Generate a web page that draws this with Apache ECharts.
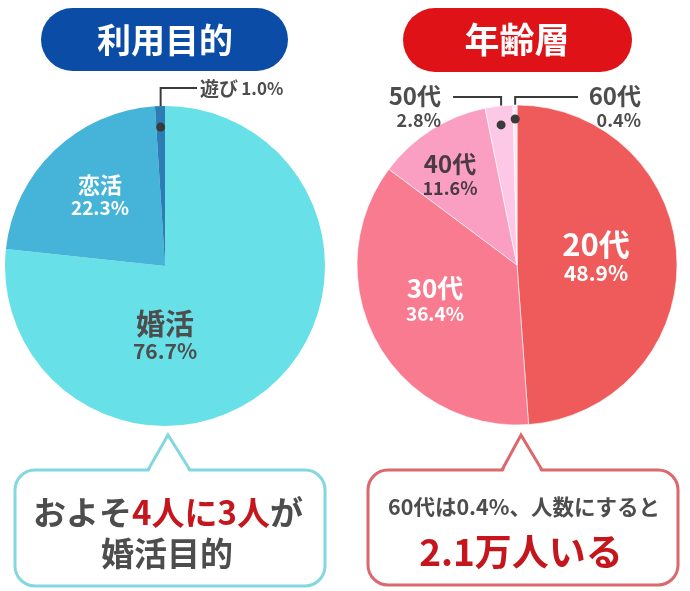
<!DOCTYPE html>
<html>
<head>
<meta charset="utf-8">
<script src="https://cdn.jsdelivr.net/npm/echarts@6/dist/echarts.min.js"></script>
<style>
  html, body { margin: 0; padding: 0; background: #fff; }
  #main { width: 690px; height: 591px; }
</style>
</head>
<body>
<div id="main"></div>
<script>
const purposeNames = ['婚活', '恋活', '遊び'];
const purposeValues = [76.7, 22.3, 1.0];
const ageNames = ['20代', '30代', '40代', '50代', '60代'];
const ageValues = [48.9, 36.4, 11.6, 2.8, 0.4];

const FONT = '"Noto Sans CJK JP", "Noto Sans", sans-serif';
const GRAY = '#4d4d4d';
const RED = '#c4161c';
const LEAD = '#3a3a3a';

const purposeColors = ['#68e0e8', '#45b4d8', '#2c7db6'];
const ageColors = ['#ef5a5b', '#f97b90', '#fa9fc2', '#fcc8e5', '#fde9f4'];

// pie geometry
const leftPie = { cx: 165, cy: 266, r: 160 };
const rightPie = { cx: 517, cy: 265, r: 160 };

// where the inside labels sit, and how outside labels are led out
const labelSpots = {
    '婚活': { x: 165, y: 336, align: 'center' },
    '恋活': { x: 100, y: 196, align: 'center' },
    '遊び': { x: 200, y: 89, align: 'left', lead: { r: 139, turnY: 88, endX: 197 } },
    '20代': { x: 596, y: 257, align: 'center' },
    '30代': { x: 435, y: 300, align: 'center' },
    '40代': { x: 450, y: 175, align: 'center' },
    '50代': { x: 441, y: 107, align: 'right', lead: { r: 141, turnY: 97, endX: 453 } },
    '60代': { x: 641, y: 107, align: 'right', lead: { r: 146, turnY: 97, endX: 578 } }
};

const labelLooks = {
    '婚活': { color: GRAY, n: 29, p: 21 },
    '恋活': { color: '#fff', n: 22, p: 19 },
    '遊び': { color: GRAY, n: 19, p: 17 },
    '20代': { color: '#fff', n: 31, p: 21 },
    '30代': { color: '#fff', n: 26, p: 19 },
    '40代': { color: '#4a3a44', n: 24, p: 18 },
    '50代': { color: GRAY, n: 24, p: 18 },
    '60代': { color: GRAY, n: 24, p: 18 }
};

// angle (clockwise from 12 o'clock) of the middle of slice i
function midAngle(values, i) {
    const total = values.reduce((a, b) => a + b, 0);
    let before = 0;
    for (let k = 0; k < i; k++) before += values[k];
    return (before + values[i] / 2) / total * Math.PI * 2;
}

function leadPoint(pie, values, i, r) {
    const a = midAngle(values, i);
    return [pie.cx + r * Math.sin(a), pie.cy - r * Math.cos(a)];
}

function buildData(names, values, colors) {
    return names.map((name, i) => {
        const look = labelLooks[name];
        const spot = labelSpots[name];
        const inline = name === '遊び';
        return {
            name: name,
            value: values[i],
            itemStyle: { color: colors[i] },
            label: {
                position: spot.lead ? 'outside' : 'inside',
                formatter: inline
                    ? '{n|' + name + '} {p|' + values[i].toFixed(1) + '%}'
                    : '{n|' + name + '}\n{p|' + values[i].toFixed(1) + '%}',
                rich: {
                    n: { fontSize: look.n, fontWeight: 'bold', color: look.color, fontFamily: FONT,
                         lineHeight: look.n + 2, align: spot.align },
                    p: { fontSize: look.p, fontWeight: 'bold', color: look.color, fontFamily: FONT,
                         lineHeight: look.p + 4, align: spot.align }
                }
            },
            labelLine: { show: !!spot.lead, lineStyle: { color: LEAD, width: 2, opacity: 1 } }
        };
    });
}

function layoutFor(pie, names, values) {
    return function (params) {
        const name = names[params.dataIndex];
        const spot = labelSpots[name];
        const out = { x: spot.x, y: spot.y, align: spot.align, verticalAlign: 'middle' };
        if (spot.lead) {
            const p = leadPoint(pie, values, params.dataIndex, spot.lead.r);
            out.labelLinePoints = [p, [p[0], spot.lead.turnY], [spot.lead.endX, spot.lead.turnY]];
        }
        return out;
    };
}

function dots(pie, names, values) {
    const list = [];
    names.forEach((name, i) => {
        const spot = labelSpots[name];
        if (!spot.lead) return;
        const p = leadPoint(pie, values, i, spot.lead.r);
        list.push({
            type: 'circle', z: 100,
            shape: { cx: p[0], cy: p[1], r: 4.5 },
            style: { fill: LEAD }
        });
    });
    return list;
}

// speech bubble: rounded box, white patch over the top border, then the pointer sides
function bubble(x0, y0, x1, y1, tipX, tipY, baseL, baseR, color) {
    return [
        {
            type: 'rect', shape: { x: x0, y: y0, width: x1 - x0, height: y1 - y0, r: 20 },
            style: { fill: '#fff', stroke: color, lineWidth: 3 }
        },
        {
            type: 'polygon', shape: { points: [[baseL + 1, y0 + 2], [tipX, tipY + 2], [baseR - 1, y0 + 2]] },
            style: { fill: '#fff' }
        },
        {
            type: 'polyline', shape: { points: [[baseL, y0], [tipX, tipY], [baseR, y0]] },
            style: { fill: null, stroke: color, lineWidth: 3, lineJoin: 'miter' }
        }
    ];
}

const chart = echarts.init(document.getElementById('main'));

const option = {
    backgroundColor: '#fff',
    animation: false,
    series: [
        {
            name: '利用目的',
            type: 'pie',
            center: [leftPie.cx, leftPie.cy],
            radius: [0, leftPie.r],
            startAngle: 90,
            clockwise: true,
            silent: true,
            itemStyle: { borderWidth: 0 },
            labelLayout: layoutFor(leftPie, purposeNames, purposeValues),
            data: buildData(purposeNames, purposeValues, purposeColors)
        },
        {
            name: '年齢層',
            type: 'pie',
            center: [rightPie.cx, rightPie.cy],
            radius: [0, rightPie.r],
            startAngle: 90,
            clockwise: true,
            silent: true,
            itemStyle: { borderColor: 'rgba(255,255,255,0.6)', borderWidth: 1 },
            labelLayout: layoutFor(rightPie, ageNames, ageValues),
            data: buildData(ageNames, ageValues, ageColors)
        }
    ],
    graphic: [
        // title pills
        {
            type: 'rect', shape: { x: 41, y: 8, width: 247, height: 63, r: 31.5 },
            style: { fill: '#0b4ca6' }
        },
        {
            type: 'text', x: 165, y: 40,
            style: { text: '利用目的', fill: '#fff', font: 'bold 34px ' + FONT, align: 'center', verticalAlign: 'middle' }
        },
        {
            type: 'rect', shape: { x: 403, y: 8, width: 229, height: 64, r: 32 },
            style: { fill: '#df1217' }
        },
        {
            type: 'text', x: 517, y: 40,
            style: { text: '年齢層', fill: '#fff', font: 'bold 35px ' + FONT, align: 'center', verticalAlign: 'middle' }
        }
    ].concat(
        bubble(15, 470, 325, 586, 168, 435, 148, 190, '#82d8de'),
        [
            {
                type: 'text', x: 168, y: 512,
                style: {
                    text: '{g|およそ}{r|4人に3人}{g|が}',
                    align: 'center', verticalAlign: 'middle',
                    rich: {
                        g: { fill: GRAY, fontSize: 33, fontWeight: 'bold', fontFamily: FONT },
                        r: { fill: RED, fontSize: 33, fontWeight: 'bold', fontFamily: FONT }
                    }
                }
            },
            {
                type: 'text', x: 167, y: 553,
                style: { text: '婚活目的', fill: GRAY, font: 'bold 33px ' + FONT, align: 'center', verticalAlign: 'middle' }
            }
        ],
        bubble(368, 470, 678, 585, 521, 435, 502, 542, '#da686c'),
        [
            {
                type: 'text', x: 524, y: 507,
                style: { text: '60代は0.4%、人数にすると', fill: GRAY, font: 'bold 21.5px ' + FONT, align: 'center', verticalAlign: 'middle' }
            },
            {
                type: 'text', x: 521, y: 552,
                style: { text: '2.1万人いる', fill: RED, font: 'bold 37px ' + FONT, align: 'center', verticalAlign: 'middle' }
            }
        ],
        dots(leftPie, purposeNames, purposeValues),
        dots(rightPie, ageNames, ageValues)
    )
};

chart.setOption(option);
</script>
</body>
</html>
